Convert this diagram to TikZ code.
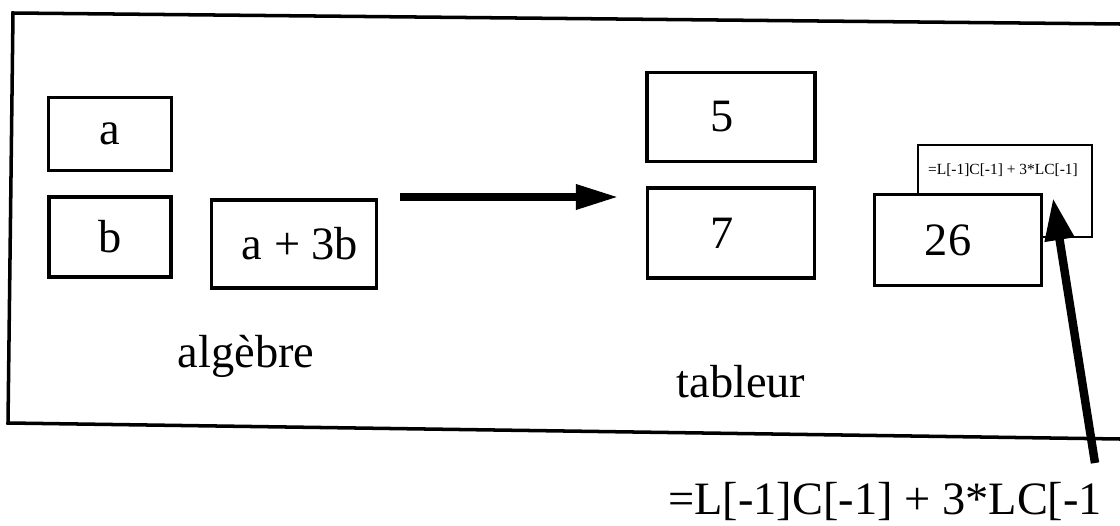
\documentclass[tikz,border=0pt]{standalone}
\usepackage{fontspec}
\setmainfont{Liberation Serif}
\usetikzlibrary{arrows.meta}

\newcommand\bigtxt{\fontsize{33}{38}\selectfont}
\newcommand\smalltxt{\fontsize{11}{12}\selectfont}

\tikzset{
  cell/.style={draw, line width=2.3pt, rectangle, fill=white, font=\bigtxt, inner sep=0pt},
  caption/.style={font=\bigtxt, inner sep=0pt, anchor=base},
  bigarrow/.style={line width=5pt, -{Triangle[length=30pt, width=17pt]}}
}

\begin{document}
\begin{tikzpicture}[x=0.025cm, y=-0.025cm]
   \useasboundingbox (0,0) rectangle (1120,526);
   \draw[line width=2.5pt] (1120,24) -- (13,13) -- (8,423) -- (1120,439);

   % algebre
   \node[cell, minimum width=3.075cm, minimum height=1.825cm] (a) at (110,134) {a};
   \node[cell, minimum width=3.05cm, minimum height=2cm] (b) at (110,237) {b};
   \node[cell, minimum width=4.125cm, minimum height=2.2cm] (expr) at (294,244) {\hspace*{0.3cm}a + 3b};
   \node[caption] (alg) at (246,367) {algèbre};

   \coordinate (from) at (400,197);
   \coordinate (to) at (618,197);
   \draw[bigarrow] (from) -- (to);

   % tableur
   \node[cell, minimum width=4.2cm, minimum height=2.225cm] (five) at (731,117) {5\hspace*{0.45cm}};
   \node[cell, minimum width=4.175cm, minimum height=2.25cm] (seven) at (731,233) {7\hspace*{0.45cm}};
   \node[cell, line width=1.8pt, minimum width=4.35cm, minimum height=2.3cm] (back) at (1005,191) {};
   \node[font=\smalltxt, inner sep=0pt] (backtxt) at (1003,170) {=L[-1]C[-1] + 3*LC[-1]};
   \node[cell, minimum width=4.175cm, minimum height=2.275cm] (cell26) at (958,240) {26\hspace*{0.5cm}};
   \node[caption] (tab) at (741,397) {tableur};

   \node[caption, anchor=base west] (formula) at (668,514) {=L[-1]C[-1] + 3*LC[-1};
   \coordinate (tail) at (1095,463);
   \coordinate (tip) at (1053,198);
   \draw[line width=6pt, -{Triangle[length=30pt, width=20pt]}] (tail) -- (tip);
\end{tikzpicture}
\end{document}
